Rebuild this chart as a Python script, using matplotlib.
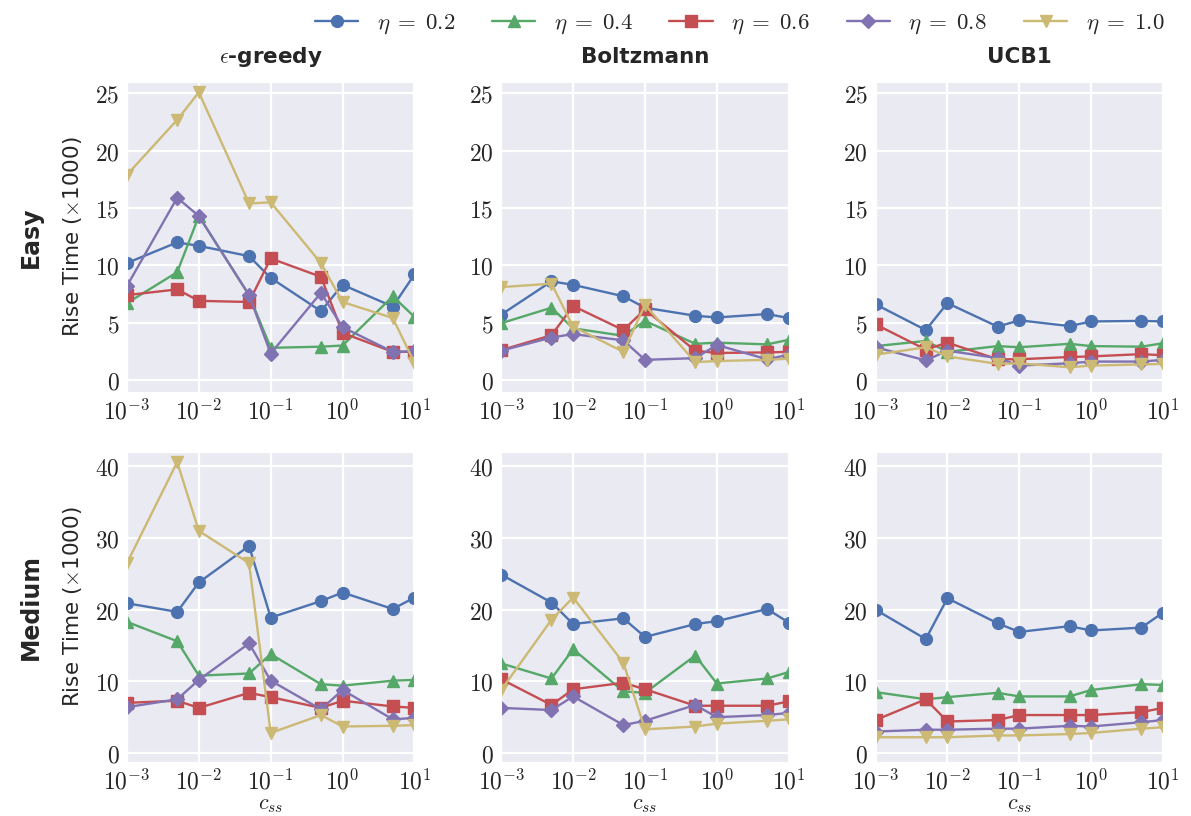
import numpy as np
import matplotlib
matplotlib.use('Agg')
import matplotlib.pyplot as plt
import seaborn as sns
from matplotlib.ticker import FuncFormatter

sns.set_style('darkgrid')
plt.rcParams['font.family'] = ['DejaVu Sans']
plt.rcParams['mathtext.fontset'] = 'cm'
plt.rcParams['grid.linewidth'] = 1.6

# exploration constant c_ss
c_ss = [0.001, 0.005, 0.01, 0.05, 0.1, 0.5, 1, 5, 10]
etas = ['0.2', '0.4', '0.6', '0.8', '1.0']
strategies = [r'$\epsilon$-greedy', 'Boltzmann', 'UCB1']
levels = ['Easy', 'Medium']

# rise time (x1000), easy level, one list per eta
easy_greedy = [
    [10.2, 12.0, 11.7, 10.8, 8.9, 6.0, 8.3, 6.4, 9.2],
    [6.7, 9.4, 14.3, 7.4, 2.8, 2.9, 3.0, 7.3, 5.5],
    [7.4, 7.9, 6.9, 6.8, 10.6, 9.0, 4.1, 2.45, 2.45],
    [8.2, 15.9, 14.3, 7.4, 2.3, 7.6, 4.6, 2.45, 2.5],
    [17.9, 22.7, 25.1, 15.4, 15.5, 10.2, 6.8, 5.4, 1.5],
]
easy_boltz = [
    [5.7, 8.6, 8.3, 7.3, 6.3, 5.6, 5.45, 5.75, 5.4],
    [4.95, 6.3, 4.5, 3.85, 5.15, 3.15, 3.25, 3.1, 3.5],
    [2.6, 3.9, 6.45, 4.35, 6.15, 2.55, 2.35, 2.4, 2.45],
    [2.55, 3.7, 4.0, 3.45, 1.75, 1.9, 3.05, 1.8, 2.2],
    [8.1, 8.4, 4.65, 2.45, 6.55, 1.55, 1.65, 1.75, 1.85],
]
easy_ucb = [
    [6.6, 4.35, 6.7, 4.65, 5.2, 4.7, 5.1, 5.15, 5.1],
    [2.95, 3.4, 2.45, 2.95, 2.85, 3.15, 2.95, 2.9, 3.2],
    [4.85, 2.65, 3.25, 1.8, 1.8, 2.0, 2.05, 2.25, 2.15],
    [2.85, 1.7, 2.55, 1.9, 1.25, 1.45, 1.6, 1.6, 1.75],
    [2.2, 2.85, 2.05, 1.4, 1.45, 1.1, 1.25, 1.35, 1.4],
]

# rise time (x1000), medium level
med_greedy = [
    [20.9, 19.7, 23.8, 28.9, 18.9, 21.2, 22.4, 20.1, 21.7],
    [18.3, 15.6, 10.8, 11.1, 13.8, 9.6, 9.4, 10.1, 10.2],
    [7.0, 7.3, 6.3, 8.4, 7.8, 6.3, 7.3, 6.5, 6.3],
    [6.4, 7.5, 10.2, 15.3, 10.1, 6.1, 8.8, 4.7, 4.9],
    [26.5, 40.6, 31.0, 26.5, 2.8, 5.3, 3.7, 3.8, 3.9],
]
med_boltz = [
    [24.9, 21.0, 18.0, 18.8, 16.2, 18.0, 18.4, 20.1, 18.2],
    [12.5, 10.4, 14.5, 8.6, 8.4, 13.6, 9.7, 10.4, 11.3],
    [10.3, 6.7, 8.9, 9.8, 8.9, 6.6, 6.6, 6.6, 7.2],
    [6.3, 6.0, 7.9, 3.9, 4.5, 6.7, 5.0, 5.3, 5.6],
    [8.8, 18.6, 21.7, 12.6, 3.3, 3.7, 4.1, 4.5, 4.7],
]
med_ucb = [
    [20.0, 15.9, 21.6, 18.1, 16.9, 17.7, 17.1, 17.5, 19.6],
    [8.5, 7.5, 7.8, 8.4, 7.9, 7.9, 8.8, 9.6, 9.5],
    [4.6, 7.5, 4.4, 4.6, 5.3, 5.3, 5.3, 5.7, 6.3],
    [3.0, 3.25, 3.25, 3.4, 3.4, 3.8, 3.7, 4.3, 4.6],
    [2.2, 2.2, 2.2, 2.45, 2.45, 2.65, 2.8, 3.4, 3.6],
]

results = [[easy_greedy, easy_boltz, easy_ucb],
           [med_greedy, med_boltz, med_ucb]]
ylims = [(-1.05, 26), (-1.25, 42)]
yticks = [[0, 5, 10, 15, 20, 25], [0, 10, 20, 30, 40]]

# old seaborn "deep" colours
colors = ['#4C72B0', '#55A868', '#C44E52', '#8172B2', '#CCB974']
markers = ['o', '^', 's', 'D', 'v']

fig, axes = plt.subplots(2, 3, figsize=(11.91, 8.16), dpi=100)
fig.subplots_adjust(left=0.1066, right=0.9765, top=0.8995, bottom=0.0662,
                    wspace=0.302, hspace=0.194)

num_fmt = FuncFormatter(lambda v, p: r'$%g$' % v)
log_fmt = FuncFormatter(lambda v, p: r'$10^{%d}$' % round(np.log10(v)))

for r in range(2):
    for c in range(3):
        ax = axes[r, c]
        for k, series in enumerate(results[r][c]):
            ax.plot(c_ss, series, color=colors[k], marker=markers[k],
                    markersize=8.5 if markers[k] != 'D' else 7.5,
                    linewidth=1.7, label=r'$\eta \;=\; %s$' % etas[k])
        ax.set_xscale('log')
        ax.set_xlim(1e-3, 10)
        ax.set_xticks([1e-3, 1e-2, 1e-1, 1, 10])
        ax.xaxis.set_major_formatter(log_fmt)
        ax.set_ylim(*ylims[r])
        ax.set_yticks(yticks[r])
        ax.yaxis.set_major_formatter(num_fmt)
        ax.tick_params(labelsize=17, pad=2)
        ax.minorticks_off()
        if c == 0:
            ax.set_ylabel(r'Rise Time ($\times$1000)', fontsize=15.5,
                          labelpad=8)
        if r == 0:
            ax.set_title(strategies[c], fontsize=15.5, fontweight='bold', pad=14)
        else:
            ax.set_xlabel(r'$c_{ss}$', fontsize=16, labelpad=0)

for r in range(2):
    pos = axes[r, 0].get_position()
    fig.text(0.026, (pos.y0 + pos.y1) / 2, levels[r], rotation=90,
             fontsize=17, fontweight='bold', ha='center', va='center')

handles, labels = axes[0, 0].get_legend_handles_labels()
fig.legend(handles, labels, loc='upper right', ncol=5, frameon=False,
           bbox_to_anchor=(0.995, 1.012), fontsize=16.5, handlelength=1.9,
           columnspacing=1.6, handletextpad=0.8)

fig.savefig('out.png', dpi=100)
